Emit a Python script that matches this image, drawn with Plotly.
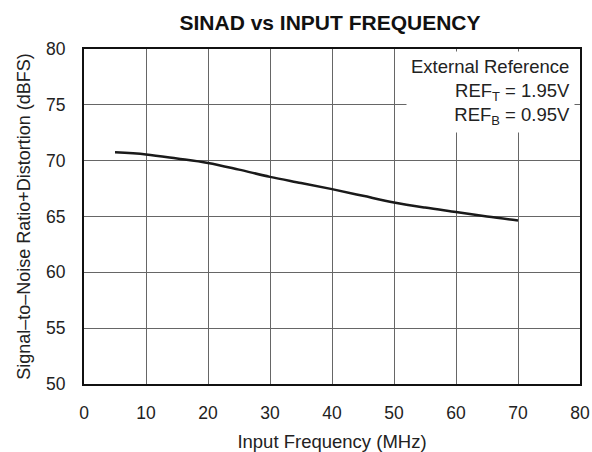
import plotly.graph_objects as go

freq_mhz = [5, 10, 15, 20, 25, 30, 35, 40, 45, 50, 55, 60, 65, 70]
sinad_dbfs = [70.75, 70.56, 70.2, 69.8, 69.2, 68.55, 68.0, 67.45, 66.85, 66.26, 65.8, 65.4, 65.0, 64.65]
x_ticks = [0, 10, 20, 30, 40, 50, 60, 70, 80]
y_ticks = [50, 55, 60, 65, 70, 75, 80]

font = "Liberation Sans, Arial, sans-serif"

fig = go.Figure()
fig.add_trace(go.Scatter(x=freq_mhz, y=sinad_dbfs, mode="lines",
                         line=dict(color="#1a1a1a", width=2.5, shape="spline"),
                         showlegend=False, hoverinfo="skip"))

fig.update_layout(
    width=592, height=452,
    margin=dict(l=84, r=12, t=49, b=68),
    paper_bgcolor="white", plot_bgcolor="white",
    font=dict(family=font, size=18, color="#222"),
    title=dict(text="<b>SINAD vs INPUT FREQUENCY</b>", x=330 / 592, xanchor="center",
               y=1 - 22.5 / 452, yanchor="middle", font=dict(size=21, family=font, color="#111")),
    xaxis=dict(range=[0, 80], tickvals=x_ticks, showgrid=True, gridcolor="#666", gridwidth=1,
               showline=True, linecolor="#111", linewidth=2, mirror=True, zeroline=False,
               ticks="outside", ticklen=0, ticklabelstandoff=12, automargin=False,
               tickfont=dict(size=17.5),
               title=dict(text="Input Frequency (MHz)", standoff=23, font=dict(size=18.5))),
    yaxis=dict(range=[50, 80], tickvals=y_ticks, showgrid=True, gridcolor="#666", gridwidth=1,
               showline=True, linecolor="#111", linewidth=2, mirror=True, zeroline=False,
               ticks="outside", ticklen=0, ticklabelstandoff=13, automargin=False,
               tickfont=dict(size=17.5),
               title=dict(text="Signal–to–Noise Ratio+Distortion (dBFS)", standoff=11, font=dict(size=18))),
)

fig.add_annotation(
    text="External Reference<br>REF<sub>T</sub> = 1.95V<br>REF<sub>B</sub> = 0.95V",
    xref="paper", yref="paper", x=0.99, y=0.994, xanchor="right", yanchor="top",
    align="right", showarrow=False, bgcolor="white", borderpad=4,
    font=dict(size=18.5, family=font, color="#222"),
)

fig.write_html("out.html", config={"displayModeBar": False},
               post_script="document.body.style.margin='0';")
